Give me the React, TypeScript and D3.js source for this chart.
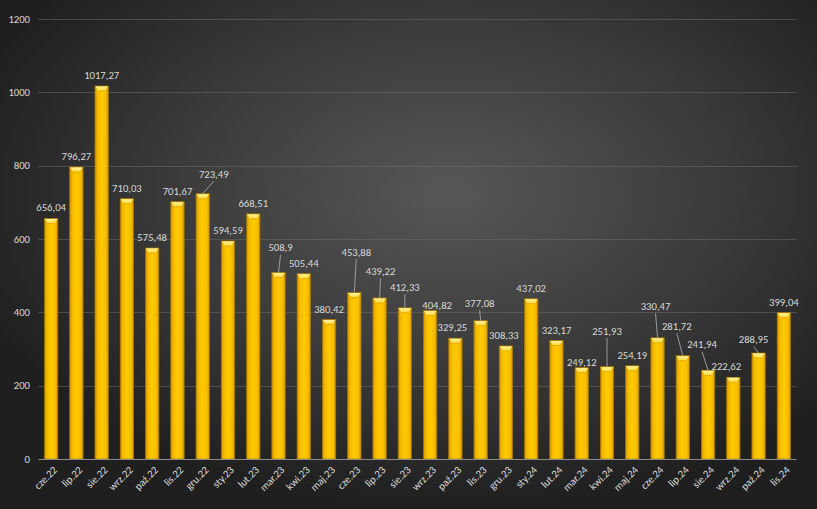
import React from "react";
import * as d3 from "d3";

const months = [
  "cze.22", "lip.22", "sie.22", "wrz.22", "paź.22", "lis.22", "gru.22",
  "sty.23", "lut.23", "mar.23", "kwi.23", "maj.23", "cze.23", "lip.23", "sie.23", "wrz.23", "paź.23", "lis.23", "gru.23",
  "sty.24", "lut.24", "mar.24", "kwi.24", "maj.24", "cze.24", "lip.24", "sie.24", "wrz.24", "paź.24", "lis.24",
];
const values = [
  656.04, 796.27, 1017.27, 710.03, 575.48, 701.67, 723.49,
  594.59, 668.51, 508.9, 505.44, 380.42, 453.88, 439.22, 412.33, 404.82, 329.25, 377.08, 308.33,
  437.02, 323.17, 249.12, 251.93, 254.19, 330.47, 281.72, 241.94, 222.62, 288.95, 399.04,
];
const yTicks = [0, 200, 400, 600, 800, 1000, 1200];

// label layout tweaks (dx, dy from default position; leader line flag)
const labelLayout: Record<string, { dx: number; dy: number; leader?: boolean }> = {
  "gru.22": { dx: 11, dy: -9, leader: true },
  "mar.23": { dx: 2, dy: -14, leader: true },
  "cze.23": { dx: 2, dy: -30, leader: true },
  "lip.23": { dx: 1, dy: -16, leader: true },
  "sie.23": { dx: 0, dy: -10, leader: true },
  "wrz.23": { dx: 7, dy: 5 },
  "paź.23": { dx: -3, dy: 0 },
  "lis.23": { dx: -1, dy: -7, leader: true },
  "gru.23": { dx: -2, dy: 0 },
  "mar.24": { dx: 0, dy: 5 },
  "kwi.24": { dx: 0, dy: -25, leader: true },
  "cze.24": { dx: -2, dy: -21, leader: true },
  "lip.24": { dx: -6, dy: -19, leader: true },
  "sie.24": { dx: -6, dy: -15, leader: true },
  "wrz.24": { dx: -7, dy: 0 },
  "paź.24": { dx: -5, dy: -3, leader: true },
};

const W = 817;
const H = 509;
const margin = { left: 38.5, right: 20.5, top: 19, bottom: 50 };
const FONT = "Carlito, Calibri, 'Liberation Sans', Arial, sans-serif";
const FS = 10.67;
const fmt = (v: number) => String(v).replace(".", ",");

export default function App() {
  const x = d3
    .scaleBand<string>()
    .domain(months)
    .range([margin.left, W - margin.right])
    .paddingInner(0.47)
    .paddingOuter(0.235);
  const y = d3.scaleLinear().domain([0, 1200]).range([H - margin.bottom, margin.top]);
  const bw = x.bandwidth();

  return (
    <svg
      width={W}
      height={H}
      style={{ position: "absolute", left: 0, top: 0, display: "block" }}
      fontFamily={FONT}
    >
      <defs>
        <radialGradient id="bg" cx="0.55" cy="0.38" r="0.62">
          <stop offset="0" stopColor="#575757" />
          <stop offset="0.55" stopColor="#3a3a3a" />
          <stop offset="1" stopColor="#1f1f1f" />
        </radialGradient>
        <linearGradient id="barG" x1="0" x2="1" y1="0" y2="0">
          <stop offset="0" stopColor="#c89200" />
          <stop offset="0.18" stopColor="#f5b800" />
          <stop offset="0.5" stopColor="#ffcb00" />
          <stop offset="0.82" stopColor="#f7bc00" />
          <stop offset="1" stopColor="#c89200" />
        </linearGradient>
        <linearGradient id="bevG" x1="0" x2="0" y1="0" y2="1">
          <stop offset="0" stopColor="#fff3a8" />
          <stop offset="1" stopColor="#ffd92e" />
        </linearGradient>
      </defs>
      <rect x={0} y={0} width={W} height={H} fill="url(#bg)" />

      {yTicks.map((t) => (
        <g key={t}>
          {t > 0 && (
            <line
              x1={margin.left}
              x2={W - margin.right}
              y1={Math.round(y(t)) + 0.5}
              y2={Math.round(y(t)) + 0.5}
              stroke="#6a6a6a"
              strokeOpacity={0.55}
              strokeWidth={1}
            />
          )}
          <text
            x={30}
            y={y(t)}
            dy="0.35em"
            textAnchor="end"
            fontSize={FS}
            fill="#d9d9d9"
          >
            {t}
          </text>
        </g>
      ))}

      {months.map((m, i) => {
        const v = values[i];
        const x0 = x(m)!;
        const top = y(v);
        const base = y(0);
        const bev = Math.min(5, (base - top) / 2);
        return (
          <g key={m}>
            <rect
              x={x0}
              y={top}
              width={bw}
              height={base - top}
              fill="url(#barG)"
              stroke="#a87a00"
              strokeWidth={0.7}
            />
            <polygon
              points={`${x0 + 0.5},${top + 0.5} ${x0 + bw - 0.5},${top + 0.5} ${x0 + bw - 3.5},${top + bev} ${x0 + 3.5},${top + bev}`}
              fill="url(#bevG)"
            />
            <line
              x1={x0 + 3.5}
              x2={x0 + bw - 3.5}
              y1={top + bev}
              y2={top + bev}
              stroke="#e0a400"
              strokeWidth={0.8}
            />
          </g>
        );
      })}

      <line
        x1={margin.left}
        x2={W - margin.right}
        y1={Math.round(y(0)) + 0.5}
        y2={Math.round(y(0)) + 0.5}
        stroke="#8c8c8c"
        strokeWidth={1}
      />

      {months.map((m, i) => {
        const v = values[i];
        const cx = x(m)! + bw / 2;
        const top = y(v);
        const lay = labelLayout[m] || { dx: 0, dy: 0 };
        const tx = cx + lay.dx;
        const ty = top - 7 + lay.dy;
        return (
          <g key={"l" + m}>
            {lay.leader && (
              <line
                x1={tx}
                y1={ty + 3.5}
                x2={cx}
                y2={top}
                stroke="#a6a6a6"
                strokeWidth={0.9}
              />
            )}
            <text x={tx} y={ty} textAnchor="middle" fontSize={FS} fill="#d9d9d9">
              {fmt(v)}
            </text>
          </g>
        );
      })}

      {months.map((m) => {
        const cx = x(m)! + bw / 2;
        return (
          <text
            key={"x" + m}
            transform={`translate(${cx + 4},${y(0) + 9}) rotate(-45)`}
            textAnchor="end"
            dy="0.35em"
            fontSize={FS}
            fill="#d9d9d9"
          >
            {m}
          </text>
        );
      })}
    </svg>
  );
}
